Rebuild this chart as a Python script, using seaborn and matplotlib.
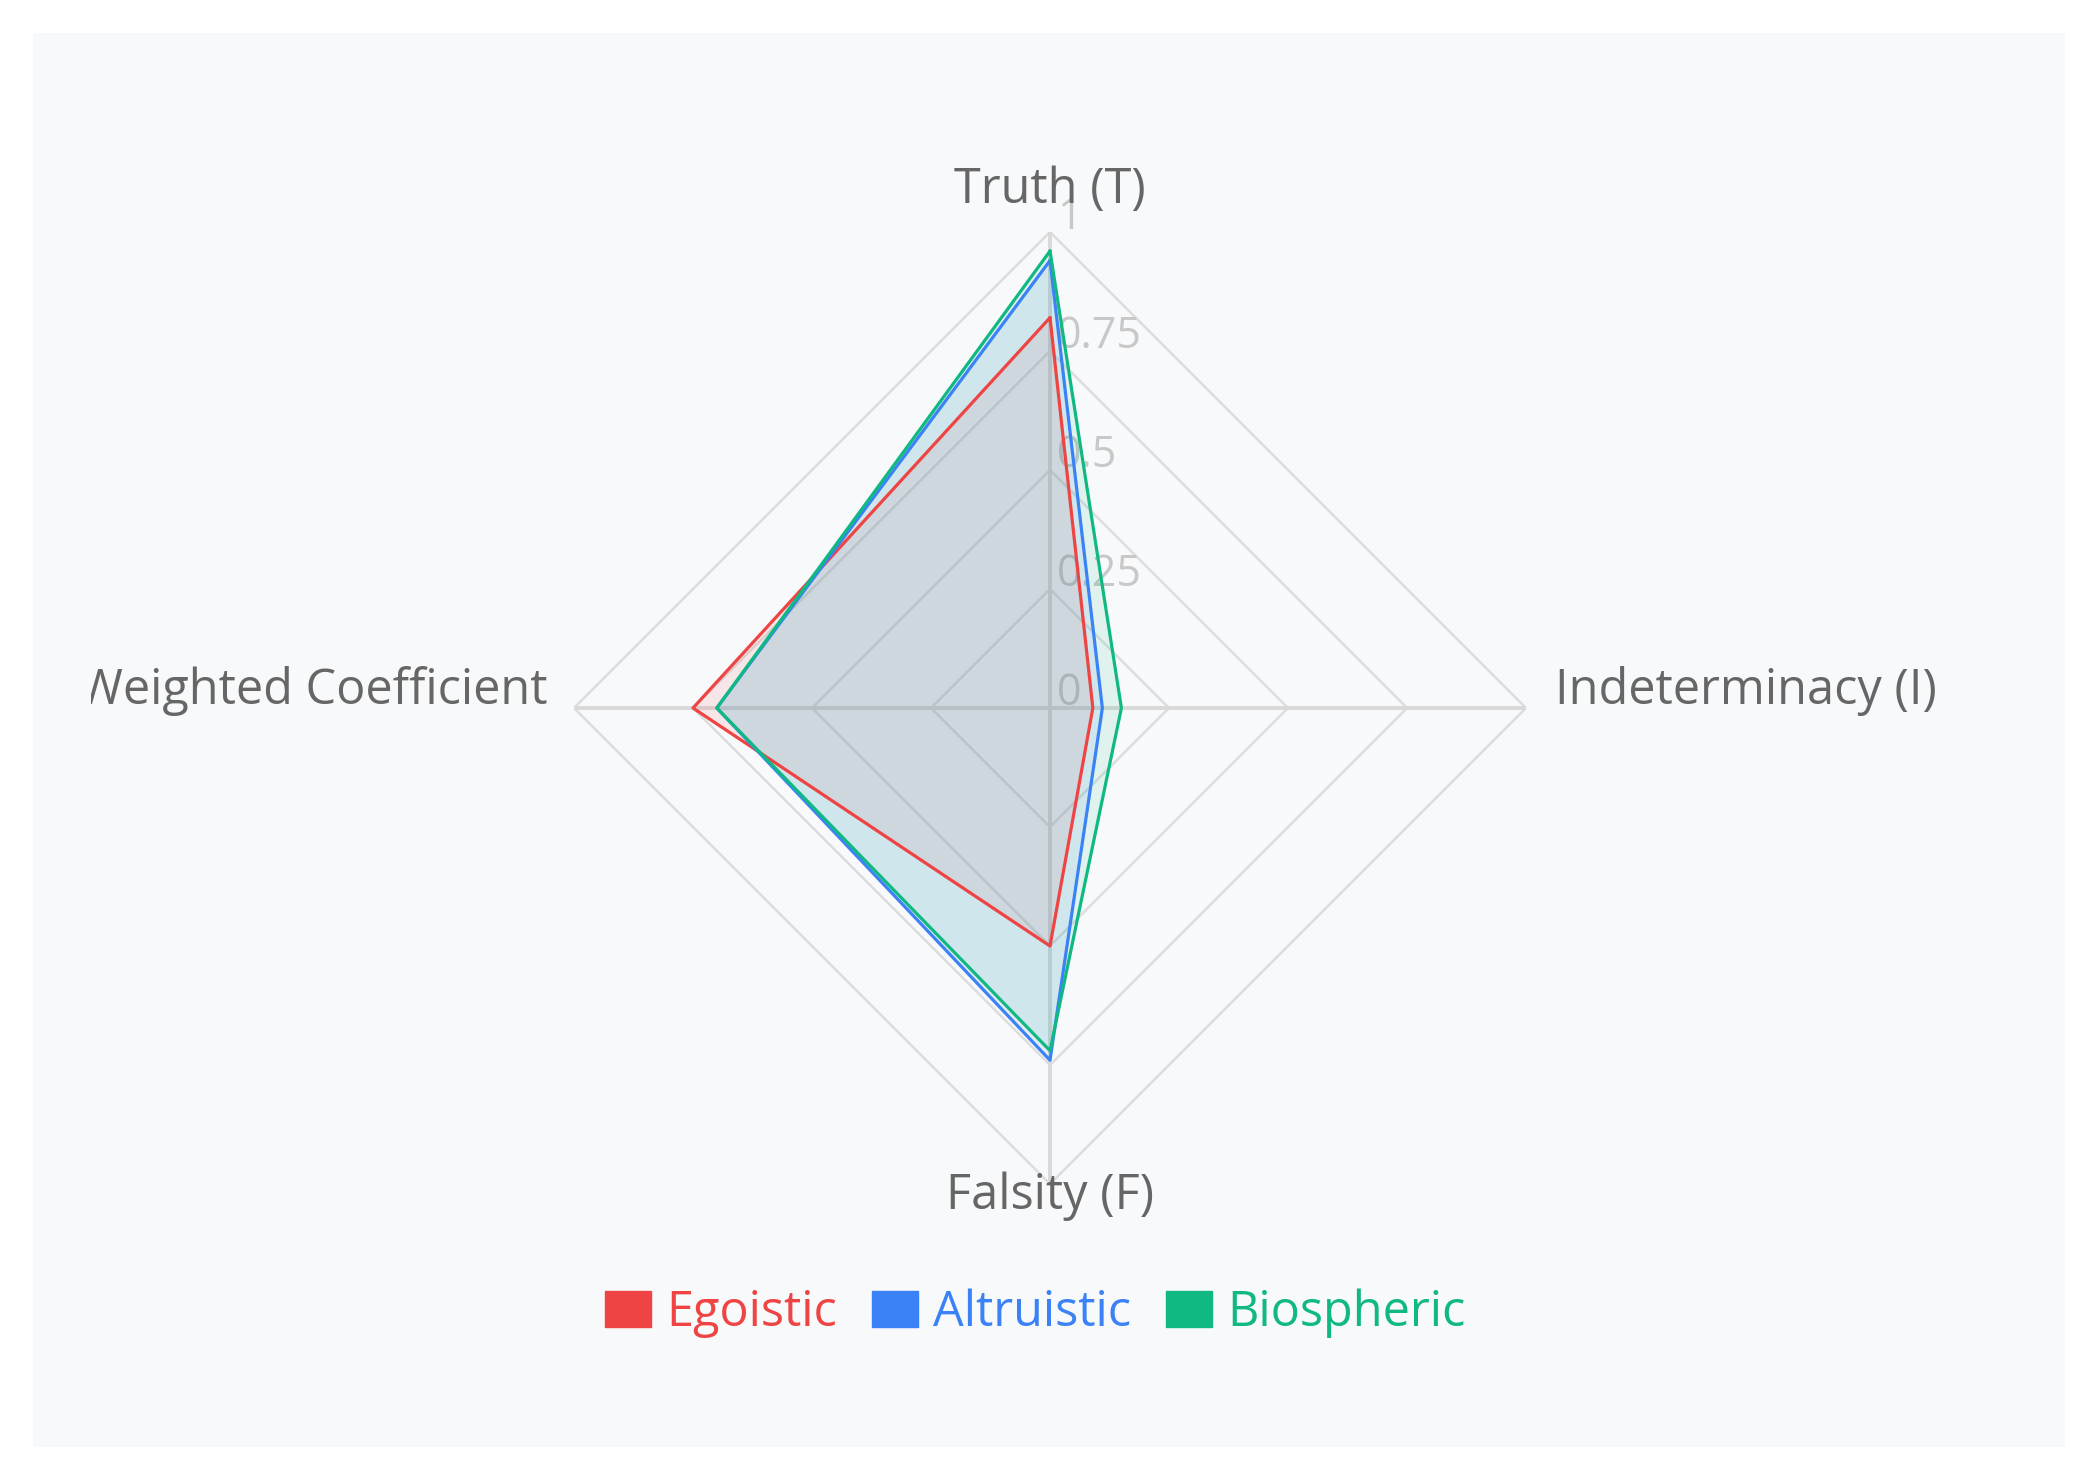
import numpy as np
import pandas as pd
import seaborn as sns
import matplotlib.pyplot as plt
from matplotlib.patches import Patch, Rectangle
from matplotlib.transforms import Bbox, TransformedBbox

# %%
# data
axis_names = ['Truth (T)', 'Indeterminacy (I)', 'Falsity (F)', 'Weighted Coefficient']
series = ['Egoistic', 'Altruistic', 'Biospheric']
egoistic = [0.82, 0.09, 0.50, 0.75]
altruistic = [0.94, 0.11, 0.74, 0.70]
biospheric = [0.96, 0.15, 0.72, 0.70]
colors = ['#ef4444', '#3b82f6', '#10b981']
tick_vals = [0, 0.25, 0.5, 0.75, 1]
tick_labels = ['0', '0.25', '0.5', '0.75', '1']

# %%
sns.set_theme(style='white')
plt.rcParams['font.family'] = ['Open Sans', 'DejaVu Sans']

W, H = 2089, 1469
fig = plt.figure(figsize=(W / 100, H / 100), dpi=100)
fig.patch.set_facecolor('white')
fig.patches.append(Rectangle((33 / W, 1 - 1447 / H), (2065 - 33) / W, (1447 - 33) / H,
                             transform=fig.transFigure, facecolor='#f8f9fa',
                             edgecolor='none', zorder=-10))

cx, cy, R = 1050, 708, 476
ax = fig.add_axes([(cx - R) / W, 1 - (cy + R) / H, 2 * R / W, 2 * R / H], projection='polar')
ax.set_theta_zero_location('N')
ax.set_theta_direction(-1)
ax.patch.set_alpha(0)

theta = np.linspace(0, 2 * np.pi, len(axis_names), endpoint=False)
theta_c = np.append(theta, 2 * np.pi)

# grid polygons + spokes
for lvl in tick_vals[1:]:
    ax.plot(theta_c, [lvl] * len(theta_c), color='#dddddd', lw=1.8, zorder=1)
for t in theta:
    ax.plot([t, t], [0, 1], color='#d9d9d9', lw=2.8, zorder=1)

# tick labels along the truth axis
for v, lab in zip(tick_vals, tick_labels):
    ax.annotate(lab, xy=(0, v), xytext=(7, 3), textcoords='offset pixels',
                ha='left', va='baseline', fontsize=31, color='#c8c8c8', zorder=2)

# %%
rows = []
for name, vals in zip(series, [egoistic, altruistic, biospheric]):
    vv = vals + vals[:1]
    for t, v in zip(theta_c, vv):
        rows.append({'series': name, 'theta': t, 'r': v})
df = pd.DataFrame(rows)

for name, c in zip(series, colors):
    d = df[df['series'] == name]
    ax.fill(d['theta'], d['r'], color=c, alpha=0.1, lw=0, zorder=3)

sns.lineplot(data=df, x='theta', y='r', hue='series', palette=colors, sort=False,
             estimator=None, ax=ax, linewidth=2.3, legend=False, zorder=4)

ax.set_xlabel('')
ax.set_ylabel('')
ax.set_xticks([])
ax.set_yticks([])
ax.grid(False)
ax.spines['polar'].set_visible(False)
ax.set_ylim(0, 1)

# %%
# axis names
lab_kw = dict(textcoords='offset pixels', fontsize=35, color='#666666', annotation_clip=False)
ax.annotate(axis_names[0], xy=(theta[0], 1), xytext=(0, 42), ha='center', va='center', **lab_kw)
ax.annotate(axis_names[1], xy=(theta[1], 1), xytext=(29, 17), ha='left', va='center', **lab_kw)
ax.annotate(axis_names[2], xy=(theta[2], 1), xytext=(0, -12), ha='center', va='center', **lab_kw)
wc = ax.annotate(axis_names[3], xy=(theta[3], 1), xytext=(-26, 17), ha='right', va='center', **lab_kw)
wc.set_clip_on(True)
wc.set_clip_box(TransformedBbox(Bbox.from_extents(91 / W, 0, 1, 1), fig.transFigure))

# legend
handles = [Patch(facecolor=c, edgecolor=c) for c in colors]
fig.legend(handles=handles, labels=series, loc='center',
           bbox_to_anchor=(1035 / W, 1 - 1313 / H), ncol=3, frameon=False,
           fontsize=35, handlelength=0.95, handleheight=0.76, handletextpad=0.31,
           columnspacing=0.72, labelcolor=colors)

plt.savefig('out.png', dpi=100)
